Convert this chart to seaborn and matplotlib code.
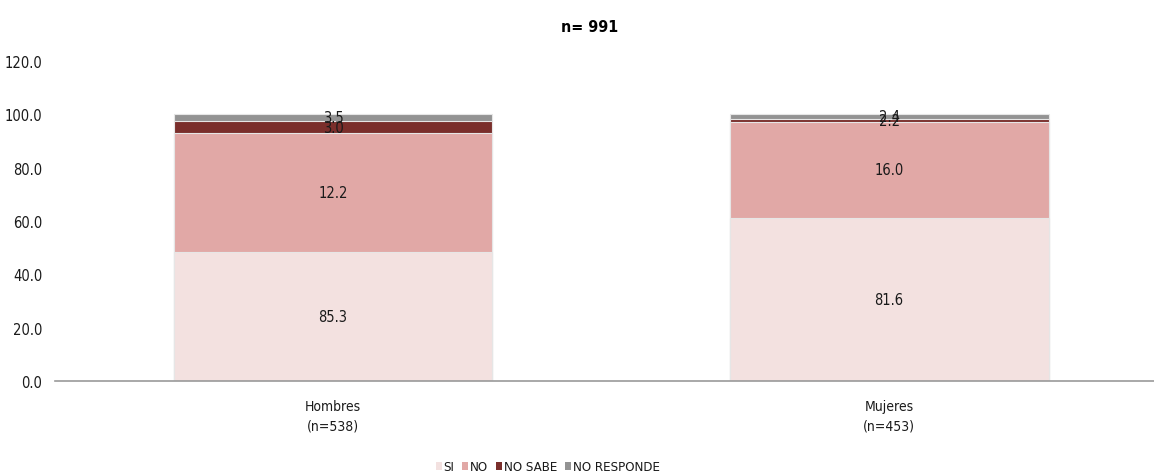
import matplotlib
matplotlib.use("Agg")
import matplotlib.pyplot as plt
import seaborn as sns
import pandas as pd
import numpy as np
from matplotlib.patches import Patch

categories = ["Hombres\n(n=538)", "Mujeres\n(n=453)"]
series = ["SI", "NO", "NO SABE", "NO RESPONDE"]
# segment heights as drawn in the picture
si_h = [48.2, 61.3]
no_h = [44.7, 35.8]
ns_h = [4.5, 1.0]
nr_h = [2.6, 1.9]
# data labels printed in the picture
si_lab = ["85.3", "81.6"]
no_lab = ["12.2", "16.0"]
ns_lab = ["3.0", "2.2"]
nr_lab = ["3.5", "2.4"]
yticks = [0, 20, 40, 60, 80, 100, 120]
title = "n= 991"
colors = ["#F3E1E0", "#E1A8A6", "#7A2E2B", "#939393"]

sns.set_theme(style="white")
plt.rcParams['font.family'] = ['DejaVu Sans']
plt.rcParams['font.stretch'] = 'condensed'

fig = plt.figure(figsize=(11.54, 4.77), dpi=100)
ax = fig.add_axes([55/1154, 1-382/477, 1-55/1154, (382-62)/477])

heights = [si_h, no_h, ns_h, nr_h]
labels = [si_lab, no_lab, ns_lab, nr_lab]
cum = np.cumsum(np.array(heights), axis=0)

df = pd.DataFrame({"cat": categories})
for i in range(3, -1, -1):
    df["v"] = cum[i]
    sns.barplot(data=df, x="cat", y="v", color=colors[i], width=0.573,
                edgecolor="#E6E6E6", linewidth=0.8, saturation=1, ax=ax)

for i in range(4):
    for j in range(len(categories)):
        base = cum[i][j] - heights[i][j]
        yc = base + heights[i][j] / 2
        ax.text(j, yc, labels[i][j], ha="center", va="center", fontsize=10.5, color="#1a1a1a")

ax.set_xlim(-0.5, (1154-332.5)/556.5)
ax.set_ylim(0, 120)
ax.set_yticks(yticks)
ax.set_yticklabels([f"{v:.1f}" for v in yticks], fontsize=10.5, color="#1a1a1a")
ax.set_xticks([0, 1])
ax.set_xticklabels(categories, fontsize=10, color="#1a1a1a", linespacing=1.45)
ax.set_xlabel("")
ax.set_ylabel("")
for s in ["top", "right", "left"]:
    ax.spines[s].set_visible(False)
ax.spines["bottom"].set_color("#9a9a9a")
ax.spines["bottom"].set_linewidth(1.2)
ax.tick_params(axis="x", length=0, pad=13)
ax.tick_params(axis="y", length=0, pad=9)

fig.text(590/1154, 1-28/477, title, ha="center", va="center", fontsize=11.5, fontweight="bold", color="#000000")

handles = [Patch(facecolor=c, edgecolor="none") for c in colors]
fig.legend(handles, series, loc="center", bbox_to_anchor=(548/1154, 1-468/477), ncol=4,
           frameon=False, fontsize=9.5, handlelength=0.45, handleheight=0.6, handletextpad=0.15,
           columnspacing=0.6, labelcolor="#1a1a1a")

fig.savefig("out.png", dpi=100)
